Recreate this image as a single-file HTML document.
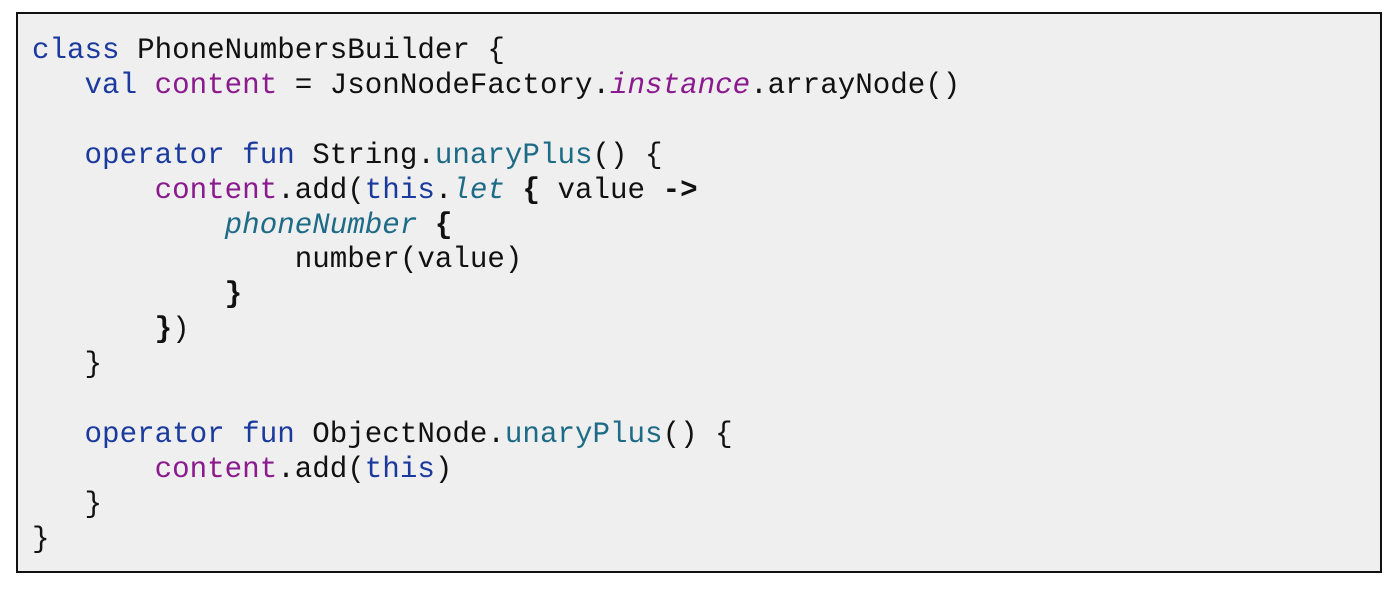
<!DOCTYPE html>
<html><head><meta charset="utf-8"><style>
html,body{margin:0;padding:0;background:#fff;width:1400px;height:590px;overflow:hidden}
.box{position:absolute;left:16px;top:12px;width:1362px;height:557px;border:2px solid #111;background:#efefef}
pre{position:absolute;left:32px;top:34px;margin:0;font-family:"Liberation Mono",monospace;font-size:29.2px;line-height:34.9px;color:#111}
.k{color:#1a3a9e}.p{color:#8a1a8e}.t{color:#1d6b86}.i{font-style:italic;color:#1d6b86}.ip{font-style:italic;color:#8a1a8e}b{font-weight:bold}
</style></head><body>
<div class="box"></div>
<pre><span class="k">class</span> PhoneNumbersBuilder {
   <span class="k">val</span> <span class="p">content</span> = JsonNodeFactory.<span class="ip">instance</span>.arrayNode()

   <span class="k">operator fun</span> String.<span class="t">unaryPlus</span>() {
       <span class="p">content</span>.add(<span class="k">this</span>.<span class="i">let</span> <b>{</b> value <b>-&gt;</b>
           <span class="i">phoneNumber</span> <b>{</b>
               number(value)
           <b>}</b>
       <b>}</b>)
   }

   <span class="k">operator fun</span> ObjectNode.<span class="t">unaryPlus</span>() {
       <span class="p">content</span>.add(<span class="k">this</span>)
   }
}</pre>
</body></html>
